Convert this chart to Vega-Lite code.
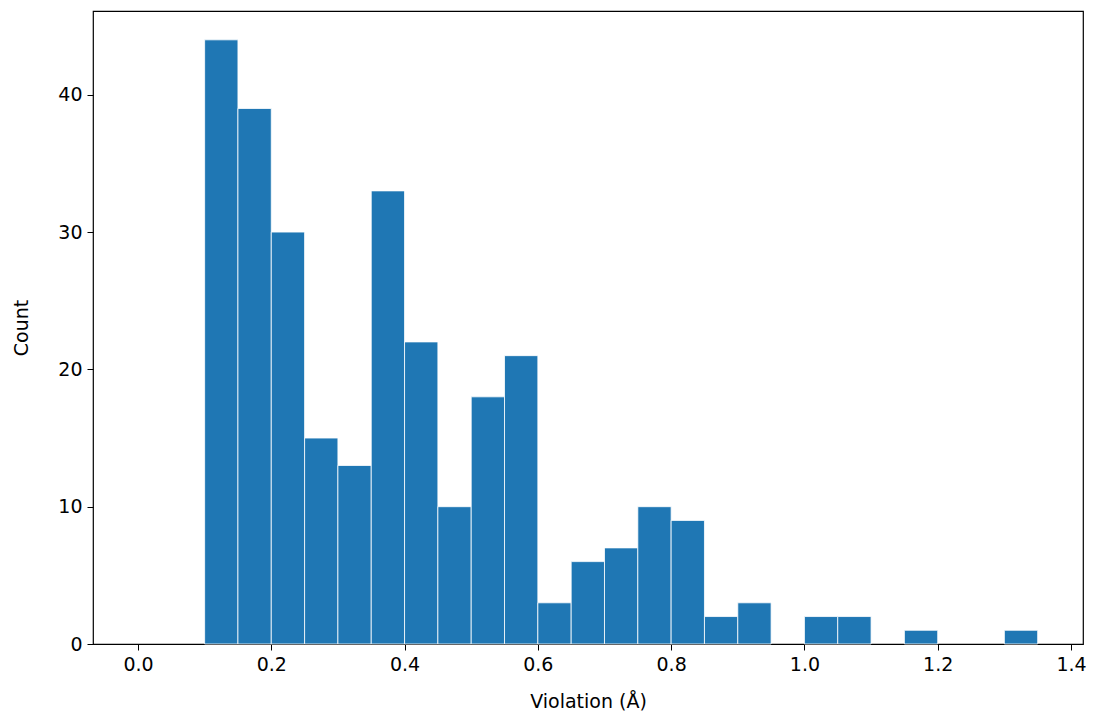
{
"$schema":"https://vega.github.io/schema/vega-lite/v6.json",
"autosize":{"type":"none"},
"padding":{"left":93,"top":11,"right":12,"bottom":68},
"width":990,"height":633,
"background":"white",
"config":{"view":{"stroke":"black","strokeWidth":1.2},"font":"DejaVu Sans"},
"data":{"values":[
{"a":0.10,"c":44},{"a":0.15,"c":39},{"a":0.20,"c":30},{"a":0.25,"c":15},{"a":0.30,"c":13},{"a":0.35,"c":33},{"a":0.40,"c":22},{"a":0.45,"c":10},{"a":0.50,"c":18},{"a":0.55,"c":21},{"a":0.60,"c":3},{"a":0.65,"c":6},{"a":0.70,"c":7},{"a":0.75,"c":10},{"a":0.80,"c":9},{"a":0.85,"c":2},{"a":0.90,"c":3},{"a":1.00,"c":2},{"a":1.05,"c":2},{"a":1.15,"c":1},{"a":1.30,"c":1}
]},
"transform":[{"calculate":"datum.a+0.05","as":"b"}],
"mark":{"type":"bar","color":"#1f77b4","stroke":"white","strokeWidth":0.8},
"encoding":{
"x":{"field":"a","type":"quantitative","scale":{"domain":[-0.0675,1.418],"nice":false,"zero":false},"axis":{"values":[0,0.2,0.4,0.6,0.8,1.0,1.2,1.4],"format":".1f","title":"Violation (Å)","grid":false,"domain":false,"tickColor":"black","labelColor":"black","titleColor":"black","labelFontSize":19,"titleFontSize":19,"titleFontWeight":"normal","tickSize":6,"labelPadding":5,"titlePadding":18,"labelFont":"DejaVu Sans","titleFont":"DejaVu Sans"}},
"x2":{"field":"b"},
"y":{"field":"c","type":"quantitative","scale":{"domain":[0,46.1],"nice":false},"axis":{"values":[0,10,20,30,40],"title":"Count","grid":false,"domain":false,"tickColor":"black","labelColor":"black","titleColor":"black","labelFontSize":19,"titleFontSize":19,"titleFontWeight":"normal","tickSize":6,"labelPadding":5,"titlePadding":26,"labelFont":"DejaVu Sans","titleFont":"DejaVu Sans"}},
"y2":{"datum":0}
}
}
